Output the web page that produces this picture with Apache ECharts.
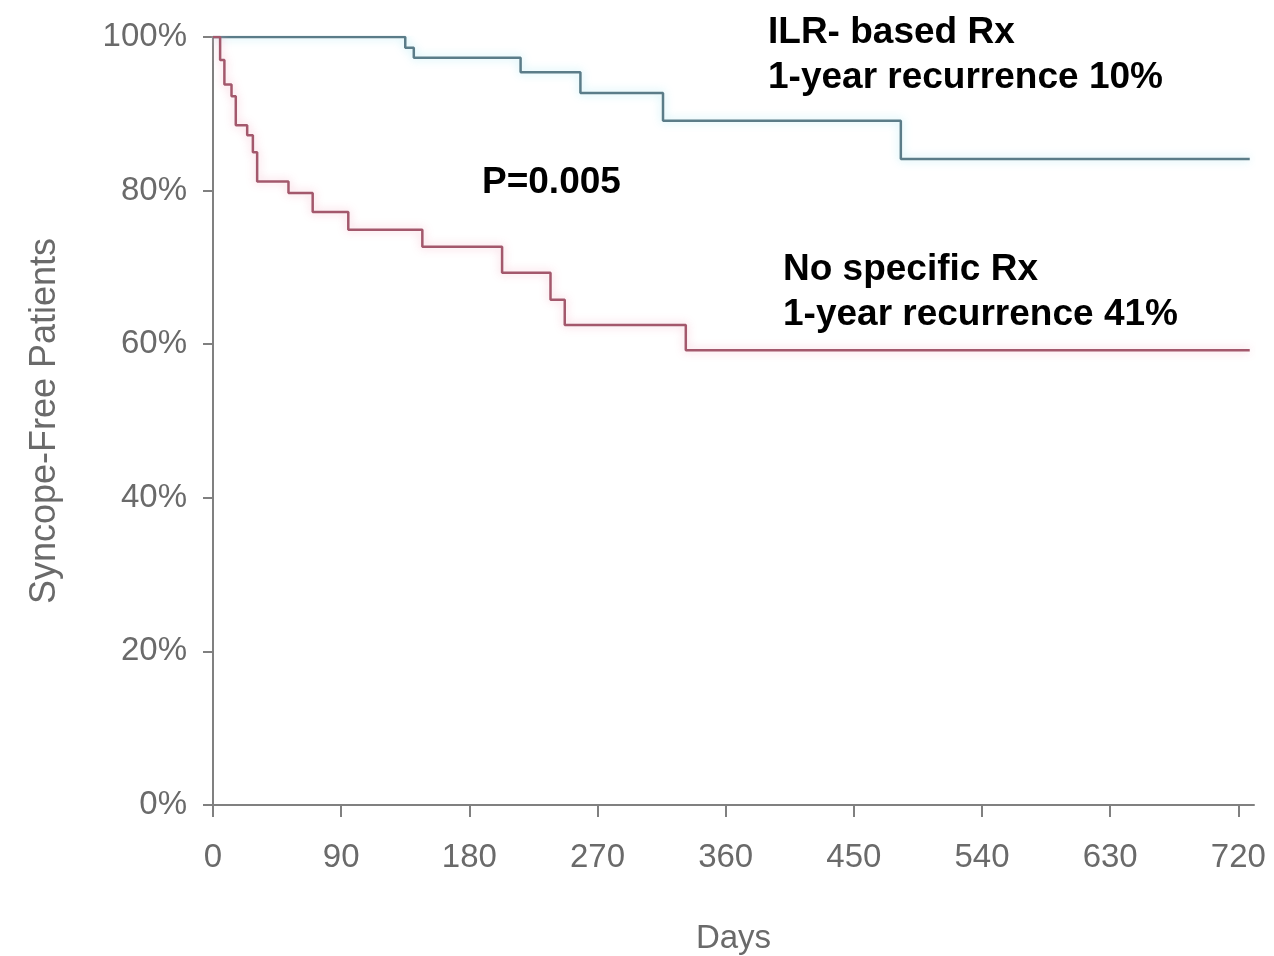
<!DOCTYPE html>
<html>
<head>
<meta charset="utf-8">
<title>Syncope-free survival</title>
<script src="https://cdn.jsdelivr.net/npm/echarts@6/dist/echarts.min.js"></script>
<style>
  html, body { margin: 0; padding: 0; background: #ffffff; }
  #chart { width: 1274px; height: 956px; }
</style>
</head>
<body>
<div id="chart"></div>
<script>
// Axis ticks
const dayTicks = [0, 90, 180, 270, 360, 450, 540, 630, 720];
const pctTicks = [0, 20, 40, 60, 80, 100];

// Kaplan-Meier steps: day of event and survival (%) after it
const ilrDays = [0, 135, 141, 216, 258, 316, 483, 728];
const ilrSurvival = [100, 98.6, 97.3, 95.4, 92.7, 89.1, 84.1, 84.1];

const noRxDays = [0, 5, 8, 13, 16, 24, 28, 31, 53, 70, 95, 147, 203, 237, 247, 332, 728];
const noRxSurvival = [100, 97.0, 93.8, 92.3, 88.5, 87.2, 85.0, 81.2, 79.7, 77.2, 74.9, 72.7, 69.3, 65.8, 62.5, 59.2, 59.2];

const pair = (xs, ys) => xs.map((x, i) => [x, ys[i]]);

const tickFont = { fontFamily: 'Liberation Sans', fontSize: 33, color: '#6a6a6a' };
const noteFont = 'bold 37px "Liberation Sans"';

const chart = echarts.init(document.getElementById('chart'), null, { renderer: 'canvas' });

chart.setOption({
  animation: false,
  backgroundColor: '#ffffff',
  grid: { left: 213, right: 20, top: 37, bottom: 151, containLabel: false, outerBoundsMode: 'none' },
  xAxis: {
    type: 'value',
    min: 0,
    max: 731,
    name: 'Days',
    nameLocation: 'middle',
    nameGap: 117,
    nameTextStyle: tickFont,
    splitLine: { show: false },
    axisLine: { lineStyle: { color: '#808080', width: 2 } },
    axisTick: { length: 12, lineStyle: { color: '#808080', width: 2 }, customValues: dayTicks },
    axisLabel: Object.assign({ margin: 36, customValues: dayTicks }, tickFont)
  },
  yAxis: {
    type: 'value',
    min: 0,
    max: 100,
    interval: 20,
    name: 'Syncope-Free Patients',
    nameLocation: 'middle',
    nameGap: 150,
    nameTextStyle: Object.assign({}, tickFont, { fontSize: 36 }),
    splitLine: { show: false },
    axisLine: { show: true, lineStyle: { color: '#808080', width: 2 } },
    axisTick: { show: true, length: 10, lineStyle: { color: '#808080', width: 2 }, customValues: pctTicks },
    axisLabel: Object.assign({ margin: 26, formatter: '{value}%', customValues: pctTicks }, tickFont)
  },
  series: [
    {
      name: 'ILR- based Rx',
      type: 'line',
      step: 'end',
      showSymbol: false,
      data: pair(ilrDays, ilrSurvival),
      lineStyle: {
        color: '#5b7c88',
        width: 2.5,
        shadowColor: 'rgba(160, 230, 242, 0.8)',
        shadowBlur: 10
      }
    },
    {
      name: 'No specific Rx',
      type: 'line',
      step: 'end',
      showSymbol: false,
      data: pair(noRxDays, noRxSurvival),
      lineStyle: {
        color: '#a3586c',
        width: 2.5,
        shadowColor: 'rgba(245, 175, 195, 0.8)',
        shadowBlur: 10
      }
    }
  ],
  graphic: [
    { type: 'text', left: 768, top: 14, style: { text: 'ILR- based Rx', font: noteFont, fill: '#000' } },
    { type: 'text', left: 768, top: 59, style: { text: '1-year recurrence 10%', font: noteFont, fill: '#000' } },
    { type: 'text', left: 482, top: 164, style: { text: 'P=0.005', font: noteFont, fill: '#000' } },
    { type: 'text', left: 783, top: 251, style: { text: 'No specific Rx', font: noteFont, fill: '#000' } },
    { type: 'text', left: 783, top: 296, style: { text: '1-year recurrence 41%', font: noteFont, fill: '#000' } }
  ]
});
</script>
</body>
</html>
